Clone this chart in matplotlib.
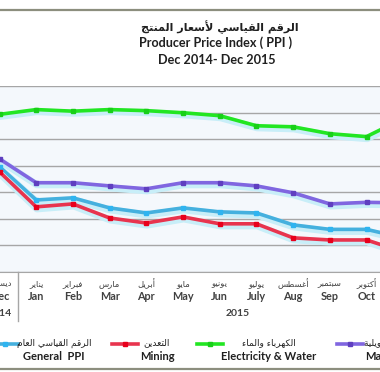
"""
Producer Price Index chart (Dec 2014 - Dec 2015), cropped view
"""
import matplotlib
matplotlib.use('Agg')
import matplotlib.pyplot as plt
import matplotlib.patheffects as pe
import matplotlib.transforms as mtransforms
from matplotlib.lines import Line2D

# presentation forms: isolated code point and number of forms (iso, fin, ini, med)
FORMS = {
    '\u0621': (0xFE80, 1), '\u0623': (0xFE83, 2), '\u0627': (0xFE8D, 2),
    '\u0628': (0xFE8F, 4), '\u0629': (0xFE93, 2), '\u062A': (0xFE95, 4),
    '\u062C': (0xFE9D, 4), '\u062D': (0xFEA1, 4), '\u062F': (0xFEA9, 2),
    '\u0631': (0xFEAD, 2), '\u0633': (0xFEB1, 4), '\u0635': (0xFEB9, 4),
    '\u0637': (0xFEC1, 4), '\u0639': (0xFEC9, 4), '\u063A': (0xFECD, 4),
    '\u0641': (0xFED1, 4), '\u0642': (0xFED5, 4), '\u0643': (0xFED9, 4),
    '\u0644': (0xFEDD, 4), '\u0645': (0xFEE1, 4), '\u0646': (0xFEE5, 4),
    '\u0647': (0xFEE9, 4), '\u0648': (0xFEED, 2), '\u064A': (0xFEF1, 4),
    '\uFEF7': (0xFEF7, 2), '\uFEFB': (0xFEFB, 2),
}
LAM_ALEF = {'\u0623': '\uFEF7', '\u0627': '\uFEFB'}


def shape(text):
    """join arabic letters and put them in visual order"""
    chars = []
    i = 0
    while i < len(text):
        if text[i] == '\u0644' and i + 1 < len(text) and text[i + 1] in LAM_ALEF:
            chars.append(LAM_ALEF[text[i + 1]])
            i += 2
        else:
            chars.append(text[i])
            i += 1
    out = []
    for k, c in enumerate(chars):
        if c not in FORMS:
            out.append(c)
            continue
        base, n = FORMS[c]
        prev = FORMS.get(chars[k - 1]) if k > 0 else None
        nxt = FORMS.get(chars[k + 1]) if k + 1 < len(chars) else None
        jp = prev is not None and prev[1] == 4 and n >= 2
        jn = nxt is not None and n == 4 and nxt[1] >= 2
        if jp and jn:
            off = 3
        elif jn:
            off = 2
        elif jp:
            off = 1
        else:
            off = 0
        out.append(chr(base + off))
    return ''.join(reversed(out))


# data
months_en = ['Dec', 'Jan', 'Feb', 'Mar', 'Apr', 'May', 'Jun', 'July',
             'Aug', 'Sep', 'Oct', 'Nov', 'Dec']
months_ar = ['ديسمبر', 'يناير', 'فبراير', 'مارس', 'أبريل', 'مايو', 'يونيو',
             'يوليو', 'أغسطس', 'سبتمبر', 'أكتوبر', 'نوفمبر', 'ديسمبر']
years = ['2014', '2015']

general_ppi = [79.5, 67.0, 67.8, 64.0, 62.1, 64.0, 62.5, 62.1, 57.6, 55.9, 55.9, 52.7]
mining = [77.6, 64.4, 65.5, 60.2, 58.3, 60.6, 58.0, 58.0, 52.7, 51.9, 51.9, 47.4]
electricity = [99.3, 101.1, 100.5, 101.1, 100.7, 99.9, 98.8, 95.0, 94.6, 92.0, 90.9, 97.7]
manufacturing = [82.5, 73.5, 73.5, 72.3, 71.2, 73.5, 73.5, 72.3, 69.7, 65.5, 66.1, 65.9]

series = [
    (general_ppi, 'الرقم القياسي العام', 'General  PPI', '#45b0de', '#2fb4f0'),
    (mining, 'التعدين', 'Mining', '#e8344e', '#e8001c'),
    (electricity, 'الكهرباء والماء', 'Electricity & Water', '#22e622', '#18d018'),
    (manufacturing, 'الصناعات التحويلية', 'Manufacturing', '#8066e0', '#5f3fc0'),
]

plt.rcParams['font.family'] = ['Lato', 'DejaVu Sans']

W, H = 380, 372
fig = plt.figure(figsize=(W / 100, H / 100), dpi=100)
fig.patch.set_facecolor('white')


def fx(px):
    return px / W


def fy(py):
    return 1 - py / H


# axes run past the figure edges (the picture is a crop)
ax_left, ax_right, ax_top, ax_bot = -18.85, 458.25, 86, 271.5
ax = fig.add_axes([fx(ax_left), fy(ax_bot), (ax_right - ax_left) / W, (ax_bot - ax_top) / H])
ax.set_facecolor('#f4f8fc')
ax.set_xlim(-0.5, 12.5)
ax.set_ylim(40, 110)
ax.set_yticks(range(40, 111, 10))
ax.yaxis.grid(True, color='#a6a6a6', lw=1)
ax.set_axisbelow(True)
ax.set_xticks([])
ax.tick_params(left=False, labelleft=False)
for s in ['top', 'left', 'right']:
    ax.spines[s].set_visible(False)
ax.spines['bottom'].set_color('#a6a6a6')

shadow = [pe.Stroke(offset=(0.5, -1.5), linewidth=5, foreground='#c8eef8'), pe.Normal()]
for vals, ar, en, col, mcol in series:
    xs = range(len(vals))
    ax.plot(xs, vals, color=col, lw=2.6, path_effects=shadow, zorder=3)
    ax.plot(xs, vals, ls='none', marker='s', ms=3.4, mfc=mcol, mec=mcol, zorder=4)

# category labels
trans = mtransforms.blended_transform_factory(ax.transData, ax.transAxes)
h = ax_bot - ax_top
for i, (ar, en) in enumerate(zip(months_ar, months_en)):
    ax.text(i, -(284 - ax_bot) / h, shape(ar), transform=trans, ha='center', va='center',
            fontsize=6, color='#404040', family=['DejaVu Sans'])
    ax.text(i, -(296 - ax_bot) / h, en, transform=trans, ha='center', va='center',
            fontsize=7.8, fontweight='bold', color='#404040')
ax.text(0, -(313 - ax_bot) / h, years[0], transform=trans, ha='center', va='center',
        fontsize=7.5, fontweight='bold', color='#404040')
ax.text(6.5, -(313 - ax_bot) / h, years[1], transform=trans, ha='center', va='center',
        fontsize=7.5, fontweight='bold', color='#404040')
for xs in [0.5, 12.5]:
    ax.plot([xs, xs], [0, -(321 - ax_bot) / h], transform=trans, color='#a6a6a6',
            lw=1, clip_on=False)

# titles
fig.text(fx(220), fy(27), shape('الرقم القياسي لأسعار المنتج'), ha='center', va='center',
         fontsize=8, fontweight='bold', color='#202020', family=['DejaVu Sans'])
fig.text(fx(216), fy(43), 'Producer Price Index ( PPI )', ha='center', va='center',
         fontsize=9.1, fontweight='bold', color='#202020')
fig.text(fx(217), fy(60), 'Dec 2014- Dec 2015', ha='center', va='center',
         fontsize=9.1, fontweight='bold', color='#202020')

# legend
leg_pos = [(5, 54), (125, 157), (210, 269), (350, None)]
for (vals, ar, en, col, mcol), (mx, tx) in zip(series, leg_pos):
    fig.add_artist(Line2D([fx(mx - 13), fx(mx + 13)], [fy(344), fy(344)], color=col, lw=2.6,
                          transform=fig.transFigure))
    fig.add_artist(Line2D([fx(mx)], [fy(344)], color=col, marker='s', ms=3.4,
                          mfc=mcol, mec=mcol, transform=fig.transFigure))
    if tx is None:
        fig.text(fx(364), fy(343), shape(ar), ha='left', va='center', fontsize=6.5,
                 color='#202020', family=['DejaVu Sans'])
        fig.text(fx(365), fy(356), en, ha='left', va='center', fontsize=8,
                 fontweight='bold', color='#202020')
    else:
        fig.text(fx(tx), fy(343), shape(ar), ha='center', va='center', fontsize=6.5,
                 color='#202020', family=['DejaVu Sans'])
        fig.text(fx(tx), fy(356), en, ha='center', va='center', fontsize=8,
                 fontweight='bold', color='#202020')

# frame lines at top and bottom of the crop
for py in [9.5, 369]:
    fig.add_artist(Line2D([0, 1], [fy(py), fy(py)], color='#8c8e7e', lw=1.6,
                          transform=fig.transFigure))

fig.savefig('out.png', dpi=100)
